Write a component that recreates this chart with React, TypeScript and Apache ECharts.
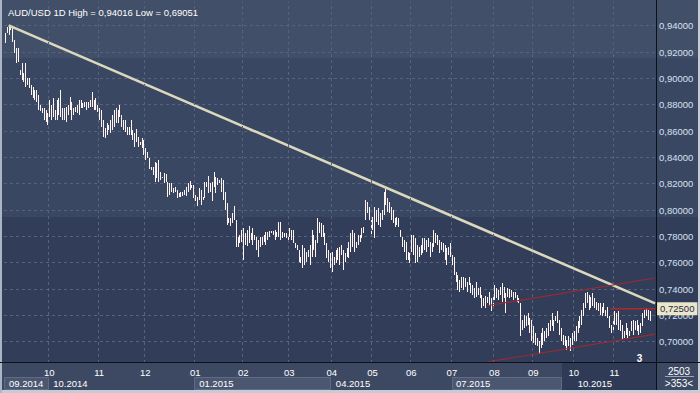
import React, { useEffect, useRef } from 'react';
import * as echarts from 'echarts';

// ---- data ----
const highs = [
  0.9342, 0.9393, 0.9402, 0.9398, 0.9380, 0.9291, 0.9228, 0.9228, 0.9064, 0.9114,
  0.9038, 0.9114, 0.9001, 0.9001, 0.8950, 0.8937, 0.8912, 0.8912, 0.8874, 0.8798,
  0.8773, 0.8773, 0.8760, 0.8735, 0.8836, 0.8798, 0.8849, 0.8760, 0.8836, 0.8849,
  0.8912, 0.8773, 0.8773, 0.8786, 0.8798, 0.8861, 0.8823, 0.8773, 0.8780, 0.8798,
  0.8836, 0.8836, 0.8811, 0.8823, 0.8823, 0.8823, 0.8836, 0.8899, 0.8836, 0.8849,
  0.8798, 0.8773, 0.8760, 0.8684, 0.8621, 0.8659, 0.8646, 0.8684, 0.8722, 0.8760,
  0.8773, 0.8760, 0.8798, 0.8722, 0.8684, 0.8684, 0.8633, 0.8633, 0.8684, 0.8608,
  0.8583, 0.8613, 0.8558, 0.8520, 0.8545, 0.8533, 0.8469, 0.8444, 0.8393, 0.8330,
  0.8330, 0.8368, 0.8355, 0.8381, 0.8292, 0.8254, 0.8280, 0.8274, 0.8216, 0.8204,
  0.8204, 0.8166, 0.8178, 0.8153, 0.8128, 0.8140, 0.8140, 0.8153, 0.8178, 0.8204,
  0.8224, 0.8191, 0.8191, 0.8115, 0.8102, 0.8166, 0.8153, 0.8102, 0.8216, 0.8216,
  0.8259, 0.8204, 0.8216, 0.8292, 0.8254, 0.8242, 0.8229, 0.8242, 0.8229, 0.8140,
  0.8052, 0.7938, 0.7938, 0.7976, 0.8032, 0.7925, 0.7799, 0.7811, 0.7849, 0.7862,
  0.7824, 0.7849, 0.7880, 0.7824, 0.7862, 0.7811, 0.7799, 0.7773, 0.7799, 0.7799,
  0.7811, 0.7836, 0.7836, 0.7844, 0.7844, 0.7844, 0.7849, 0.7836, 0.7912, 0.7912,
  0.7836, 0.7824, 0.7824, 0.7811, 0.7862, 0.7849, 0.7849, 0.7748, 0.7735, 0.7698,
  0.7647, 0.7735, 0.7710, 0.7685, 0.7698, 0.7735, 0.7849, 0.7811, 0.7773, 0.7938,
  0.7912, 0.7900, 0.7887, 0.7824, 0.7748, 0.7698, 0.7672, 0.7685, 0.7647, 0.7698,
  0.7710, 0.7723, 0.7735, 0.7698, 0.7672, 0.7710, 0.7761, 0.7824, 0.7849, 0.7824,
  0.7761, 0.7811, 0.7811, 0.7862, 0.7874, 0.8077, 0.8064, 0.8026, 0.7925, 0.7950,
  0.8026, 0.8001, 0.8014, 0.7976, 0.8001, 0.8140, 0.8162, 0.8090, 0.8064, 0.8026,
  0.8001, 0.7938, 0.7950, 0.7938, 0.7849, 0.7799, 0.7773, 0.7761, 0.7685, 0.7672,
  0.7812, 0.7812, 0.7786, 0.7735, 0.7723, 0.7735, 0.7786, 0.7786, 0.7773, 0.7786,
  0.7761, 0.7748, 0.7849, 0.7824, 0.7812, 0.7773, 0.7761, 0.7748, 0.7735, 0.7710,
  0.7723, 0.7748, 0.7660, 0.7647, 0.7533, 0.7508, 0.7470, 0.7495, 0.7495, 0.7482,
  0.7457, 0.7495, 0.7445, 0.7432, 0.7407, 0.7457, 0.7407, 0.7419, 0.7356, 0.7331,
  0.7349, 0.7343, 0.7381, 0.7331, 0.7356, 0.7432, 0.7407, 0.7394, 0.7419, 0.7445,
  0.7419, 0.7369, 0.7407, 0.7399, 0.7394, 0.7381, 0.7381, 0.7356, 0.7331, 0.7293,
  0.7166, 0.7204, 0.7192, 0.7217, 0.7179, 0.7166, 0.7116, 0.7065, 0.7027, 0.7002,
  0.7065, 0.7103, 0.7078, 0.7103, 0.7141, 0.7166, 0.7217, 0.7166, 0.7192, 0.7230,
  0.7166, 0.7103, 0.7052, 0.7040, 0.7015, 0.7040, 0.7027, 0.7065, 0.7078, 0.7116,
  0.7154, 0.7192, 0.7242, 0.7293, 0.7369, 0.7381, 0.7356, 0.7343, 0.7369, 0.7331,
  0.7305, 0.7293, 0.7293, 0.7267, 0.7293, 0.7242, 0.7267, 0.7192, 0.7128, 0.7166,
  0.7230, 0.7217, 0.7230, 0.7166, 0.7128, 0.7078, 0.7141, 0.7103, 0.7078, 0.7154,
  0.7166, 0.7154, 0.7166, 0.7128, 0.7141, 0.7217, 0.7242, 0.7255, 0.7242, 0.7230,
];
const lows = [
  0.9266, 0.9342, 0.9329, 0.9367, 0.9279, 0.9190, 0.9114, 0.9127, 0.9026, 0.8988,
  0.8975, 0.8937, 0.8950, 0.8925, 0.8874, 0.8849, 0.8836, 0.8823, 0.8760, 0.8755,
  0.8735, 0.8684, 0.8672, 0.8646, 0.8710, 0.8684, 0.8710, 0.8684, 0.8684, 0.8722,
  0.8710, 0.8684, 0.8684, 0.8672, 0.8722, 0.8760, 0.8684, 0.8722, 0.8747, 0.8735,
  0.8722, 0.8773, 0.8773, 0.8786, 0.8760, 0.8773, 0.8786, 0.8786, 0.8760, 0.8760,
  0.8747, 0.8684, 0.8633, 0.8558, 0.8545, 0.8570, 0.8608, 0.8583, 0.8608, 0.8633,
  0.8659, 0.8659, 0.8710, 0.8633, 0.8608, 0.8596, 0.8570, 0.8570, 0.8570, 0.8532,
  0.8482, 0.8520, 0.8482, 0.8494, 0.8469, 0.8419, 0.8381, 0.8393, 0.8310, 0.8305,
  0.8267, 0.8216, 0.8242, 0.8216, 0.8229, 0.8242, 0.8204, 0.8216, 0.8102, 0.8115,
  0.8140, 0.8128, 0.8140, 0.8090, 0.8097, 0.8102, 0.8108, 0.8115, 0.8108, 0.8140,
  0.8153, 0.8166, 0.8090, 0.8065, 0.8032, 0.8077, 0.8039, 0.8077, 0.8090, 0.8178,
  0.8128, 0.8140, 0.8065, 0.8178, 0.8128, 0.8191, 0.8204, 0.8140, 0.8077, 0.8001,
  0.7887, 0.7900, 0.7875, 0.7900, 0.7925, 0.7723, 0.7723, 0.7748, 0.7761, 0.7622,
  0.7736, 0.7728, 0.7748, 0.7773, 0.7736, 0.7773, 0.7698, 0.7642, 0.7723, 0.7736,
  0.7761, 0.7736, 0.7773, 0.7799, 0.7824, 0.7811, 0.7773, 0.7799, 0.7799, 0.7773,
  0.7786, 0.7799, 0.7786, 0.7748, 0.7799, 0.7773, 0.7748, 0.7710, 0.7698, 0.7609,
  0.7596, 0.7558, 0.7584, 0.7609, 0.7647, 0.7584, 0.7647, 0.7698, 0.7647, 0.7748,
  0.7824, 0.7799, 0.7799, 0.7735, 0.7634, 0.7609, 0.7558, 0.7533, 0.7584, 0.7596,
  0.7622, 0.7584, 0.7660, 0.7546, 0.7609, 0.7647, 0.7634, 0.7685, 0.7723, 0.7685,
  0.7710, 0.7735, 0.7761, 0.7786, 0.7824, 0.7925, 0.7976, 0.7925, 0.7811, 0.7849,
  0.7786, 0.7912, 0.7887, 0.7874, 0.7925, 0.7963, 0.8039, 0.7988, 0.7976, 0.7925,
  0.7900, 0.7874, 0.7887, 0.7874, 0.7799, 0.7723, 0.7685, 0.7622, 0.7622, 0.7596,
  0.7685, 0.7660, 0.7596, 0.7609, 0.7647, 0.7660, 0.7672, 0.7698, 0.7685, 0.7723,
  0.7647, 0.7685, 0.7723, 0.7748, 0.7735, 0.7672, 0.7698, 0.7685, 0.7622, 0.7584,
  0.7660, 0.7647, 0.7584, 0.7508, 0.7457, 0.7394, 0.7381, 0.7407, 0.7394, 0.7419,
  0.7381, 0.7432, 0.7369, 0.7356, 0.7331, 0.7343, 0.7356, 0.7331, 0.7255, 0.7268,
  0.7255, 0.7293, 0.7268, 0.7230, 0.7268, 0.7318, 0.7331, 0.7318, 0.7356, 0.7305,
  0.7331, 0.7217, 0.7343, 0.7331, 0.7343, 0.7318, 0.7331, 0.7305, 0.7293, 0.7040,
  0.7090, 0.7103, 0.7116, 0.7128, 0.7065, 0.7002, 0.6989, 0.6977, 0.6964, 0.6905,
  0.6951, 0.6977, 0.7002, 0.7027, 0.7040, 0.7078, 0.7116, 0.7078, 0.7154, 0.7141,
  0.7052, 0.7002, 0.6977, 0.6964, 0.6939, 0.6964, 0.6926, 0.6977, 0.7002, 0.7002,
  0.7065, 0.7103, 0.7128, 0.7192, 0.7255, 0.7293, 0.7242, 0.7255, 0.7268, 0.7255,
  0.7242, 0.7230, 0.7204, 0.7192, 0.7217, 0.7192, 0.7179, 0.7103, 0.7065, 0.7090,
  0.7128, 0.7128, 0.7090, 0.7078, 0.7015, 0.7027, 0.7052, 0.7027, 0.7040, 0.7078,
  0.7052, 0.7090, 0.7078, 0.7052, 0.7065, 0.7116, 0.7179, 0.7192, 0.7166, 0.7154,
];

const slotCount = 353; // visible bar slots (">353<")
const monthTicks = [24, 51, 76, 103, 129, 154, 177, 199, 220, 242, 265, 286, 308, 330];
const monthLabels = ['10', '11', '12', '01', '02', '03', '04', '05', '06', '07', '08', '09', '10', '11'];
const quarterTicks = [0, 24, 103, 177, 242, 308];
const quarterLabels = ['09.2014', '10.2014', '01.2015', '04.2015', '07.2015', '10.2015'];
const dimFromSlot = 302;

const trendLine = [[2, 0.9402], [352, 0.7291]];
const channelUpper = [[261, 0.7273], [352, 0.7484]];
const channelLower = [[261, 0.6846], [352, 0.7058]];
const lastPrice = 0.725;
const priceLine = [[328, lastPrice], [352, lastPrice]];
const headerText = 'AUD/USD 1D High = 0,94016 Low = 0,69051';

const FONT = 'Liberation Sans';

export default function App() {
  const ref = useRef<HTMLDivElement>(null);

  useEffect(() => {
    if (!ref.current) return;
    const chart = echarts.init(ref.current, undefined, { renderer: 'svg', width: 700, height: 393 });
    const slots = Array.from({ length: slotCount }, (_, i) => 's' + i);
    const barData = highs.map((h, i) => [i, h, lows[i]]);
    const fmtPrice = (v: number) => v.toFixed(5).replace('.', ',');

    const option: any = {
      animation: false,
      backgroundColor: 'transparent',
      title: {
        text: headerText,
        left: 3,
        top: 2,
        z: 12,
        textStyle: { color: '#ffffff', fontSize: 9.5, fontWeight: 'normal', fontFamily: FONT },
      },
      grid: { left: 4, right: 44, top: 0, bottom: 31 },
      xAxis: [
        {
          type: 'category',
          data: slots,
          boundaryGap: true,
          position: 'bottom',
          z: 5,
          axisLine: { show: false },
          axisTick: { show: false },
          axisLabel: {
            interval: (i: number) => monthTicks.includes(i),
            formatter: (_v: string, i: number) => monthLabels[monthTicks.indexOf(i)] ?? '',
            color: (_v: string, i: number) => (i >= dimFromSlot ? '#6c7891' : '#ffffff'),
            fontSize: 9.5,
            fontFamily: FONT,
            margin: 5,
          },
          splitLine: {
            show: true,
            interval: (i: number) => monthTicks.includes(i),
            lineStyle: { color: '#56637d', type: [3, 3], width: 1 },
          },
        },
        {
          type: 'category',
          data: slots,
          boundaryGap: true,
          position: 'bottom',
          z: 5,
          axisLine: { show: false },
          axisTick: { show: false },
          splitLine: { show: false },
          axisLabel: {
            interval: (i: number) => quarterTicks.includes(i),
            formatter: (_v: string, i: number) => quarterLabels[quarterTicks.indexOf(i)] ?? '',
            color: (_v: string, i: number) => (i >= dimFromSlot ? '#6c7891' : '#ffffff'),
            align: 'left',
            padding: [0, 0, 0, 4],
            fontSize: 9.5,
            fontFamily: FONT,
            margin: 16,
          },
        },
      ],
      yAxis: {
        type: 'value',
        position: 'right',
        min: 0.6846,
        max: 0.9595,
        minInterval: 0.02,
        maxInterval: 0.02,
        axisLine: { show: false },
        axisTick: { show: false },
        axisLabel: {
          showMinLabel: false,
          showMaxLabel: false,
          formatter: (v: number) => (v < 0.69 || v > 0.95 ? '' : fmtPrice(v)),
          color: '#d6e1f2',
          fontSize: 9.5,
          fontFamily: FONT,
          margin: 3,
        },
        splitLine: { show: true, lineStyle: { color: '#56637d', type: [3, 3], width: 1 } },
      },
      series: [
        {
          type: 'custom',
          name: 'AUD/USD',
          data: barData,
          encode: { x: 0, y: [1, 2] },
          z: 3,
          clip: true,
          silent: true,
          renderItem: (_params: any, api: any) => {
            const top = api.coord([api.value(0), api.value(1)]);
            const bot = api.coord([api.value(0), api.value(2)]);
            const x = Math.round(top[0]) + 0.5;
            return {
              type: 'line',
              shape: { x1: x, y1: Math.round(top[1]), x2: x, y2: Math.round(bot[1]) },
              style: { stroke: '#fff4ef', lineWidth: 1 },
            };
          },
        },
        {
          type: 'line',
          data: trendLine,
          symbol: 'none',
          silent: true,
          z: 4,
          lineStyle: { color: '#dcd8bd', width: 2.6 },
        },
        {
          type: 'line',
          data: channelUpper,
          symbol: 'none',
          silent: true,
          z: 4,
          lineStyle: { color: '#9a2b30', width: 1.2 },
        },
        {
          type: 'line',
          data: channelLower,
          symbol: 'none',
          silent: true,
          z: 4,
          lineStyle: { color: '#9a2b30', width: 1.2 },
        },
        {
          type: 'line',
          data: priceLine,
          symbol: 'none',
          silent: true,
          z: 6,
          lineStyle: { color: '#b3262b', width: 1.5 },
          endLabel: {
            show: true,
            formatter: () => fmtPrice(lastPrice),
            backgroundColor: '#ebe6c9',
            color: '#1d2a47',
            fontSize: 9.5,
            fontFamily: FONT,
            padding: [2, 3, 1, 3],
            distance: 2,
          },
        },
      ],
      graphic: [
        // hide the grid's top edge line under the header band
        { type: 'rect', z: 10, silent: true, shape: { x: 2, y: 0, width: 654, height: 1.5 }, style: { fill: '#424f68' } },
        // quarter boxes in the time bar
        { type: 'rect', z: 1, silent: true, shape: { x: 4.5, y: 377.5, width: 44, height: 12 }, style: { fill: '#4b5771', stroke: '#5f6b85', lineWidth: 1 } },
        { type: 'rect', z: 1, silent: true, shape: { x: 194.5, y: 377.5, width: 136, height: 12 }, style: { fill: '#4b5771', stroke: '#5f6b85', lineWidth: 1 } },
        { type: 'rect', z: 1, silent: true, shape: { x: 452.5, y: 377.5, width: 109, height: 12 }, style: { fill: '#4b5771', stroke: '#5f6b85', lineWidth: 1 } },
        { type: 'rect', z: 1, silent: true, shape: { x: 562, y: 363, width: 94, height: 27 }, style: { fill: '#2f3b56' } },
        // frame lines
        { type: 'line', z: 10, silent: true, shape: { x1: 0, y1: 362.5, x2: 700, y2: 362.5 }, style: { stroke: '#0b1019', lineWidth: 1 } },
        { type: 'line', z: 10, silent: true, shape: { x1: 656.5, y1: 0, x2: 656.5, y2: 390 }, style: { stroke: '#0b1019', lineWidth: 1 } },
        // bars counter
        { type: 'text', z: 10, silent: true, style: { x: 679, y: 371, text: '2503', fill: '#ffffff', font: `10px "${FONT}"`, align: 'center', verticalAlign: 'middle' } },
        { type: 'line', z: 10, silent: true, shape: { x1: 665, y1: 376.5, x2: 694, y2: 376.5 }, style: { stroke: '#9aa5b8', lineWidth: 1 } },
        { type: 'text', z: 10, silent: true, style: { x: 679, y: 383, text: '>353<', fill: '#ffffff', font: `10px "${FONT}"`, align: 'center', verticalAlign: 'middle' } },
        { type: 'text', z: 10, silent: true, style: { x: 639.5, y: 358, text: '3', fill: '#ffffff', font: `bold 10px "${FONT}"`, align: 'center', verticalAlign: 'middle' } },
      ],
    };
    chart.setOption(option);
    return () => chart.dispose();
  }, []);

  return (
    <div
      ref={ref}
      style={{
        position: 'absolute',
        left: 0,
        top: 0,
        width: 700,
        height: 393,
        background:
          'linear-gradient(to right, #abb5c5 0px, #abb5c5 2px, transparent 2px, transparent 698px, #c6ccd6 698px), ' +
          'linear-gradient(to bottom, #424f68 0px, #424f68 58px, #3a4762 58px, #3a4762 217px, #313d59 217px, #313d59 362px, #3d4963 362px, #3d4963 390px, #c6ccd6 390px)',
      }}
    />
  );
}
